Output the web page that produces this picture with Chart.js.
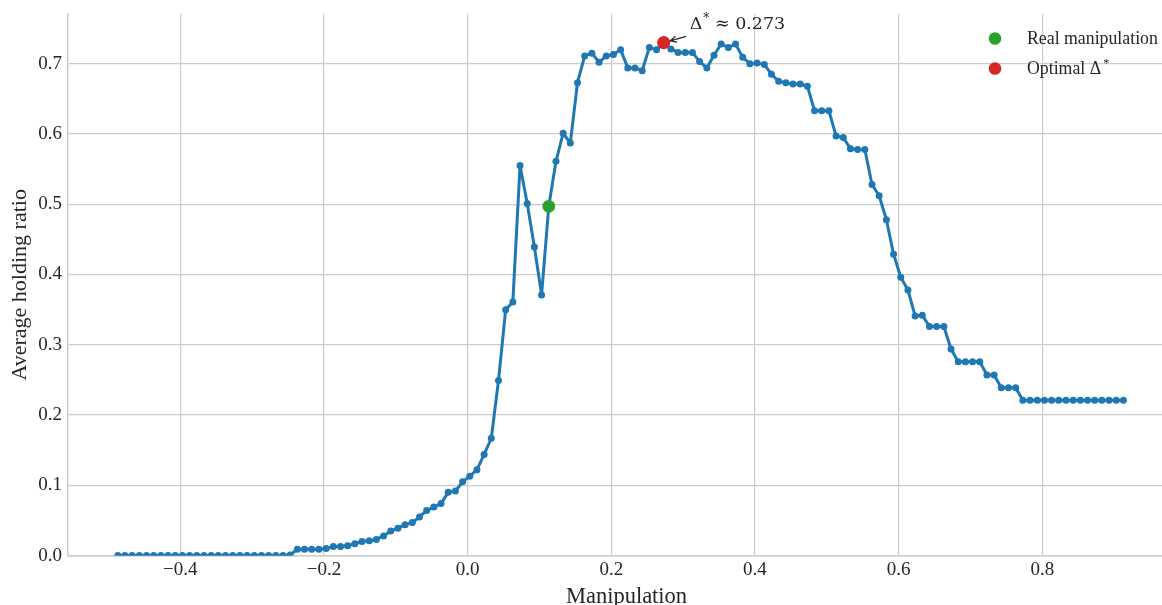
<!DOCTYPE html>
<html>
<head>
<meta charset="utf-8">
<title>Average holding ratio vs manipulation</title>
<script src="https://cdn.jsdelivr.net/npm/chart.js@4.4.1/dist/chart.umd.min.js"></script>
<style>
  html, body { margin: 0; padding: 0; background: #ffffff; }
  #chart { display: block; }
</style>
</head>
<body>
<canvas id="chart" width="1162" height="605"></canvas>
<script>
"use strict";

// ── DATA ────────────────────────────────────
const manipulation = [
  -0.487, -0.477, -0.467, -0.457, -0.447, -0.437, -0.427, -0.417, -0.407, -0.397,
  -0.387, -0.377, -0.367, -0.357, -0.347, -0.337, -0.327, -0.317, -0.307, -0.297,
  -0.287, -0.277, -0.267, -0.257, -0.247, -0.237, -0.227, -0.217, -0.207, -0.197,
  -0.187, -0.177, -0.167, -0.157, -0.147, -0.137, -0.127, -0.117, -0.107, -0.097,
  -0.087, -0.077, -0.067, -0.057, -0.047, -0.037, -0.027, -0.017, -0.007, 0.003,
  0.013, 0.023, 0.033, 0.043, 0.053, 0.063, 0.073, 0.083, 0.093, 0.103,
  0.113, 0.123, 0.133, 0.143, 0.153, 0.163, 0.173, 0.183, 0.193, 0.203,
  0.213, 0.223, 0.233, 0.243, 0.253, 0.263, 0.273, 0.283, 0.293, 0.303,
  0.313, 0.323, 0.333, 0.343, 0.353, 0.363, 0.373, 0.383, 0.393, 0.403,
  0.413, 0.423, 0.433, 0.443, 0.453, 0.463, 0.473, 0.483, 0.493, 0.503,
  0.513, 0.523, 0.533, 0.543, 0.553, 0.563, 0.573, 0.583, 0.593, 0.603,
  0.613, 0.623, 0.633, 0.643, 0.653, 0.663, 0.673, 0.683, 0.693, 0.703,
  0.713, 0.723, 0.733, 0.743, 0.753, 0.763, 0.773, 0.783, 0.793, 0.803,
  0.813, 0.823, 0.833, 0.843, 0.853, 0.863, 0.873, 0.883, 0.893, 0.903,
  0.913
];

const holdingRatio = [
  0, 0, 0, 0, 0, 0, 0, 0, 0, 0,
  0, 0, 0, 0, 0, 0, 0, 0, 0, 0,
  0, 0, 0, 0, 0.001, 0.009, 0.009, 0.009, 0.009, 0.010,
  0.013, 0.013, 0.014, 0.017, 0.020, 0.021, 0.023, 0.028, 0.035, 0.039,
  0.044, 0.047, 0.055, 0.064, 0.069, 0.074, 0.090, 0.092, 0.105, 0.113,
  0.122, 0.144, 0.167, 0.249, 0.350, 0.361, 0.555, 0.501, 0.439, 0.371,
  0.497, 0.561, 0.601, 0.587, 0.673, 0.711, 0.715, 0.702, 0.711, 0.713,
  0.720, 0.694, 0.694, 0.690, 0.723, 0.720, 0.730, 0.721, 0.716, 0.716,
  0.716, 0.703, 0.694, 0.712, 0.728, 0.723, 0.728, 0.709, 0.700, 0.701,
  0.699, 0.685, 0.675, 0.673, 0.671, 0.671, 0.668, 0.633, 0.633, 0.633,
  0.597, 0.595, 0.579, 0.578, 0.578, 0.528, 0.512, 0.478, 0.429, 0.396,
  0.378, 0.341, 0.342, 0.326, 0.326, 0.326, 0.294, 0.276, 0.276, 0.276,
  0.276, 0.257, 0.257, 0.239, 0.239, 0.239, 0.221, 0.221, 0.221, 0.221,
  0.221, 0.221, 0.221, 0.221, 0.221, 0.221, 0.221, 0.221, 0.221, 0.221,
  0.221
];

const realX    = [0.113];
const realY    = [0.497];
const optimalX = [0.273];
const optimalY = [0.730];

const xTicks = [-0.4, -0.2, 0.0, 0.2, 0.4, 0.6, 0.8];
const yTicks = [0.0, 0.1, 0.2, 0.3, 0.4, 0.5, 0.6, 0.7];

const xTitle       = "Manipulation";
const legendLabels = ["Real manipulation", "Optimal Δ"];
const annotText    = ["Δ", "*", " ≈ 0.273"];

// ── STYLE ───────────────────────────────────
const BLUE  = "#1f77b4";
const GREEN = "#2ca02c";
const RED   = "#d62728";
const GRID  = "#cccccc";
const INK   = "#262626";
const SERIF = "'Liberation Serif', 'Times New Roman', serif";

const toPoints = (xs, ys) => xs.map((x, i) => ({ x: x, y: ys[i] }));
const fmtTick  = v => v.toFixed(1).replace("-", "\u2212");


/* ══════════════════════════════════════════
   ANNOTATION + LEGEND + X TITLE (on top)
══════════════════════════════════════════ */
const overlayPlugin = {
  id: "overlay",
  afterDraw(chart) {
    const ctx = chart.ctx;
    const xs = chart.scales.x, ys = chart.scales.y;
    ctx.save();

    // Δ* ≈ 0.273 label with arrow
    const px = xs.getPixelForValue(optimalX[0]);
    const py = ys.getPixelForValue(optimalY[0]);
    ctx.fillStyle = INK;
    ctx.textBaseline = "alphabetic";
    ctx.textAlign = "left";
    let tx = px + 26, ty = py - 14;
    ctx.font = "17.5px 'DejaVu Serif', serif";
    ctx.fillText(annotText[0], tx, ty);
    tx += ctx.measureText(annotText[0]).width + 1;
    ctx.font = "12px 'DejaVu Serif', serif";
    ctx.fillText(annotText[1], tx, ty - 7);
    tx += ctx.measureText(annotText[1]).width;
    ctx.font = "17.5px 'DejaVu Serif', serif";
    ctx.fillText(annotText[2], tx, ty);

    const ax0 = px + 22.5, ay0 = py - 6.3;   // tail
    const ax1 = px + 6.5,  ay1 = py - 1.7;   // head
    const ang = Math.atan2(ay1 - ay0, ax1 - ax0);
    ctx.strokeStyle = INK;
    ctx.lineWidth = 1.2;
    ctx.beginPath();
    ctx.moveTo(ax0, ay0);
    ctx.lineTo(ax1, ay1);
    ctx.moveTo(ax1 - 7 * Math.cos(ang - 0.45), ay1 - 7 * Math.sin(ang - 0.45));
    ctx.lineTo(ax1, ay1);
    ctx.lineTo(ax1 - 7 * Math.cos(ang + 0.45), ay1 - 7 * Math.sin(ang + 0.45));
    ctx.stroke();

    // Legend (upper right)
    const lx = 995, rows = [38.5, 68.5], colors = [GREEN, RED];
    rows.forEach((ry, i) => {
      ctx.beginPath();
      ctx.arc(lx, ry, 6.3, 0, Math.PI * 2);
      ctx.fillStyle = colors[i];
      ctx.fill();
      ctx.fillStyle = INK;
      ctx.font = "17.8px " + SERIF;
      ctx.fillText(legendLabels[i], 1027, ry + 5.5);
    });
    const w = ctx.measureText(legendLabels[1]).width;
    ctx.font = "12px " + SERIF;
    ctx.fillText("*", 1027 + w + 2, rows[1] - 2);

    // x-axis title (centred on the full, uncropped axes width)
    ctx.font = "22.5px " + SERIF;
    ctx.textAlign = "center";
    ctx.fillText(xTitle, 626.5, 603);

    ctx.restore();
  }
};


/* ══════════════════════════════════════════
   CHART.JS — Average holding ratio (line)
══════════════════════════════════════════ */
new Chart(document.getElementById("chart"), {
  type: "line",
  data: {
    datasets: [{
      label: "Average holding ratio",
      data: toPoints(manipulation, holdingRatio),
      borderColor: BLUE,
      backgroundColor: BLUE,
      borderWidth: 3,
      borderJoinStyle: "round",
      borderCapStyle: "round",
      pointRadius: 3.5,
      pointBorderWidth: 0,
      pointBackgroundColor: BLUE,
      tension: 0,
      fill: false,
      clip: 0,
      order: 3,
    }, {
      label: legendLabels[0],
      data: toPoints(realX, realY),
      showLine: false,
      pointRadius: 6.4,
      pointBorderWidth: 0,
      pointBackgroundColor: GREEN,
      order: 1,
    }, {
      label: legendLabels[1],
      data: toPoints(optimalX, optimalY),
      showLine: false,
      pointRadius: 6.6,
      pointBorderWidth: 0,
      pointBackgroundColor: RED,
      order: 0,
    }]
  },
  options: {
    responsive: false,
    animation: false,
    events: [],
    layout: { autoPadding: false, padding: { top: 14, right: 0, left: 0, bottom: 0 } },
    scales: {
      x: {
        type: "linear",
        min: -0.5563, max: 0.9667,
        afterFit: s => {
          s.height = 49.4;
          s.paddingLeft = 0; s.paddingRight = 0;
        },
        afterBuildTicks: s => { s.ticks = xTicks.map(v => ({ value: v })); },
        ticks: {
          color: INK, padding: 3,
          font: { family: SERIF, size: 19 },
          callback: fmtTick,
        },
        grid:   { color: GRID, lineWidth: 1.2, drawTicks: false },
        border: { display: true, color: GRID, width: 1.5 },
      },
      y: {
        min: 0, max: 0.7707,
        afterFit: s => {
          s.width = 68;
          s.paddingTop = 0; s.paddingBottom = 0;
        },
        afterBuildTicks: s => { s.ticks = yTicks.map(v => ({ value: v })); },
        ticks: {
          color: INK, padding: 6,
          font: { family: SERIF, size: 19 },
          callback: fmtTick,
        },
        grid:   { color: GRID, lineWidth: 1.2, drawTicks: false },
        border: { display: true, color: GRID, width: 1.5 },
        title: {
          display: true, text: "Average holding ratio", color: INK,
          font: { family: SERIF, size: 22, lineHeight: 1 },
          padding: { top: 9.5, bottom: 0 },
        },
      }
    },
    plugins: {
      legend:  { display: false },
      tooltip: { enabled: false },
    }
  },
  plugins: [overlayPlugin]
});
</script>
</body>
</html>
